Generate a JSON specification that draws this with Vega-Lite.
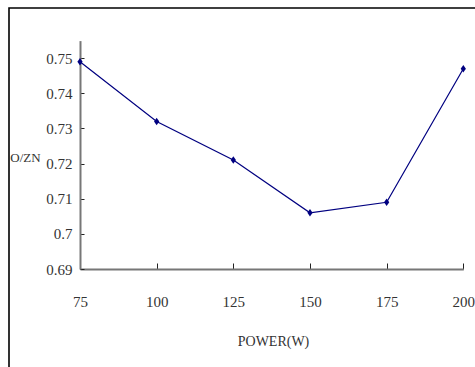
{
  "$schema": "https://vega.github.io/schema/vega-lite/v6.json",
  "autosize": "none",
  "width": 470,
  "height": 364,
  "padding": {"left": 9, "top": 8, "right": 0, "bottom": 0},
  "background": "white",
  "config": {
    "view": {"stroke": "black", "strokeWidth": 1.6},
    "axis": {
      "grid": false,
      "domainColor": "#777",
      "domainWidth": 2,
      "tickColor": "#222",
      "tickWidth": 1
    }
  },
  "data": {
    "values": [
      {"power": 75, "ratio": 0.749},
      {"power": 100, "ratio": 0.732},
      {"power": 125, "ratio": 0.721},
      {"power": 150, "ratio": 0.706},
      {"power": 175, "ratio": 0.709},
      {"power": 200, "ratio": 0.747}
    ]
  },
  "encoding": {
    "x": {
      "field": "power",
      "type": "quantitative",
      "scale": {"domain": [75, 200], "range": [71, 454.3], "nice": false, "zero": false},
      "axis": {
        "title": "POWER(W)",
        "offset": -103,
        "values": [75, 100, 125, 150, 175, 200],
        "tickSize": -6,
        "labelPadding": 31,
        "labelFlush": false,
        "labelFont": "Liberation Serif",
        "labelFontSize": 15,
        "labelColor": "#333",
        "titleFont": "Liberation Serif",
        "titleFontSize": 14,
        "titleFontWeight": "normal",
        "titleColor": "#333",
        "titleX": 264,
        "titleY": 72,
        "titleAlign": "center",
        "titleBaseline": "middle"
      }
    },
    "y": {
      "field": "ratio",
      "type": "quantitative",
      "scale": {"domain": [0.69, 0.755], "range": [261, 32.6], "nice": false, "zero": false},
      "axis": {
        "title": "O/ZN",
        "offset": -71,
        "values": [0.69, 0.7, 0.71, 0.72, 0.73, 0.74, 0.75],
        "format": "~g",
        "tickSize": -4,
        "labelPadding": 12,
        "labelFlush": false,
        "labelFont": "Liberation Serif",
        "labelFontSize": 15,
        "labelColor": "#333",
        "titleFont": "Liberation Serif",
        "titleFontSize": 13,
        "titleFontWeight": "normal",
        "titleColor": "#333",
        "titleAngle": 0,
        "titleX": -55,
        "titleY": 149,
        "titleAlign": "center",
        "titleBaseline": "middle"
      }
    }
  },
  "layer": [
    {"mark": {"type": "line", "color": "#000080", "strokeWidth": 1.2}},
    {
      "mark": {
        "type": "point",
        "shape": "M0,-1L0.7,0L0,1L-0.7,0Z",
        "size": 56,
        "filled": true,
        "opacity": 1,
        "color": "#000080"
      }
    }
  ]
}
